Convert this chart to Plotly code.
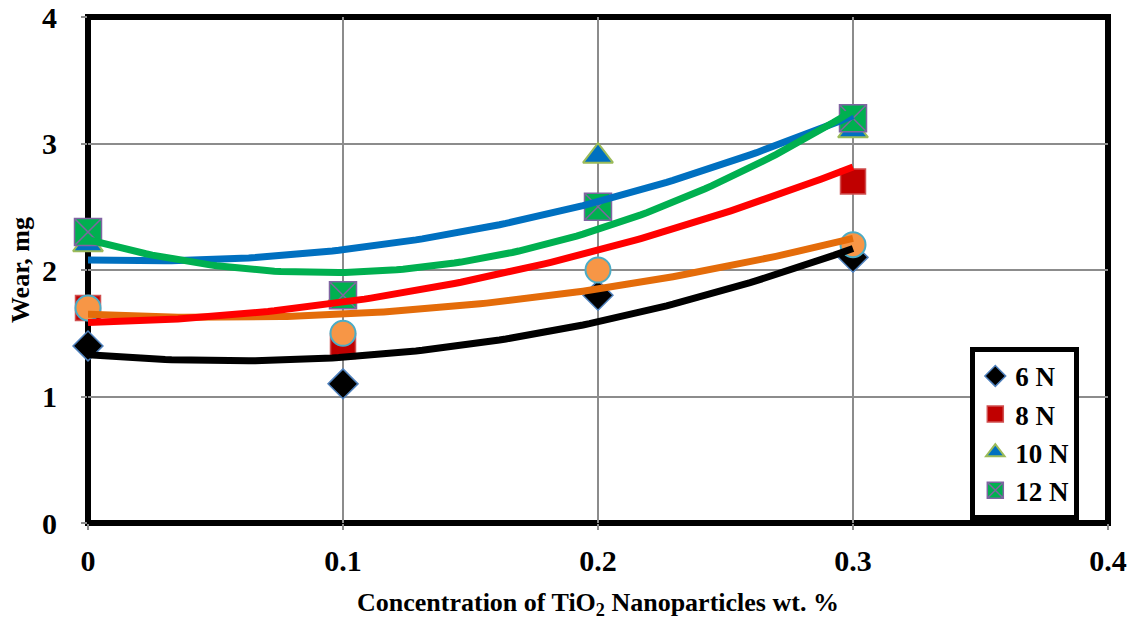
import numpy as np
import plotly.graph_objects as go

# Data
conc = [0.0, 0.1, 0.2, 0.3]
wear_6N = [1.4, 1.1, 1.8, 2.1]
wear_8N = [1.7, 1.4, 2.5, 2.7]
wear_10N = [2.2, 1.8, 2.9, 3.1]
wear_12N = [2.3, 1.8, 2.5, 3.2]
wear_extra = [1.7, 1.5, 2.0, 2.2]
series_names = ["6 N", "8 N", "10 N", "12 N", "series 5"]
x_ticks = [0, 0.1, 0.2, 0.3, 0.4]
y_ticks = [0, 1, 2, 3, 4]
x_title = "Concentration of TiO<sub>2</sub> Nanoparticles wt. %"
y_title = "Wear, mg"

FONT = "Liberation Serif"

fig = go.Figure()

marker_styles = [
    (wear_6N, dict(symbol="diamond", size=23, color="#000000", line=dict(color="#4F81BD", width=1.5)), True),
    (wear_8N, dict(symbol="square", size=25, color="#C00000", line=dict(color="#D05050", width=1.5)), True),
    (wear_10N, dict(symbol="triangle-up", size=26, color="#0070C0", line=dict(color="#9BBB59", width=2)), True),
    (wear_12N, dict(symbol="square-x", size=27, color="#00B050", line=dict(color="#8064A2", width=1.5)), True),
    (wear_extra, dict(symbol="circle", size=25, color="#F79646", line=dict(color="#4BACC6", width=2)), False),
]

for (vals, mk, show), name in zip(marker_styles, series_names):
    fig.add_trace(go.Scatter(
        x=conc, y=vals, mode="markers", name=name, marker=mk,
        showlegend=show, cliponaxis=False,
    ))

# Polynomial (order 2) trend lines
xs = np.linspace(min(conc), max(conc), 120)
trend_specs = [
    (wear_extra, "#E46C0A"),
    (wear_6N, "#000000"),
    (wear_8N, "#FF0000"),
    (wear_10N, "#0070C0"),
    (wear_12N, "#00B050"),
]
for vals, col in trend_specs:
    coeffs = np.polyfit(conc, vals, 2)
    fig.add_trace(go.Scatter(
        x=xs, y=np.polyval(coeffs, xs), mode="lines",
        line=dict(color=col, width=7), showlegend=False,
        hoverinfo="skip", cliponaxis=False,
    ))

fig.add_shape(type="rect", xref="paper", yref="paper", x0=0, y0=0, x1=1, y1=1,
              line=dict(color="black", width=6), layer="between")

fig.add_annotation(text=x_title, xref="paper", yref="paper", x=0.5, y=-0.160,
                   xanchor="center", yanchor="middle", showarrow=False,
                   font=dict(family=FONT, size=26, color="black", weight="bold"))
fig.add_annotation(text=y_title, xref="paper", yref="paper", x=-0.0667, y=0.5,
                   xanchor="center", yanchor="middle", showarrow=False, textangle=-90,
                   font=dict(family=FONT, size=26, color="black", weight="bold"))

fig.update_layout(
    width=1138, height=625,
    margin=dict(l=88, r=30, t=17, b=102, autoexpand=False),
    paper_bgcolor="white", plot_bgcolor="white",
    font=dict(family=FONT, color="black"),
    showlegend=True,
    legend=dict(
        x=0.865, y=0.348, xanchor="left", yanchor="top",
        bgcolor="white", bordercolor="black", borderwidth=5,
        font=dict(family=FONT, size=27, color="black", weight="bold"),
        tracegroupgap=0, itemsizing="trace",
    ),
    xaxis=dict(
        range=[0, 0.4], tickvals=x_ticks, ticktext=[f"{v:g}" for v in x_ticks],
        showgrid=True, gridcolor="#8C8C8C", gridwidth=1.5, zeroline=False,
        showline=False, ticks="outside", ticklen=6, tickcolor="#8C8C8C", tickwidth=1.5,
        tickfont=dict(family=FONT, size=30, weight="bold"),
        ticklabelstandoff=5, automargin=False, ticklabeloverflow="allow",
    ),
    yaxis=dict(
        range=[0, 4], tickvals=y_ticks,
        showgrid=True, gridcolor="#8C8C8C", gridwidth=1.5, zeroline=False,
        showline=False, ticks="outside", ticklen=6, tickcolor="#8C8C8C", tickwidth=1.5,
        tickfont=dict(family=FONT, size=30, weight="bold"),
        ticklabelstandoff=18, automargin=False, ticklabeloverflow="allow",
    ),
)

# remove the page's default body margin so the figure fills the window exactly
fig.write_html("out.html", config={"displayModeBar": False},
               post_script="document.body.style.margin='0';")
